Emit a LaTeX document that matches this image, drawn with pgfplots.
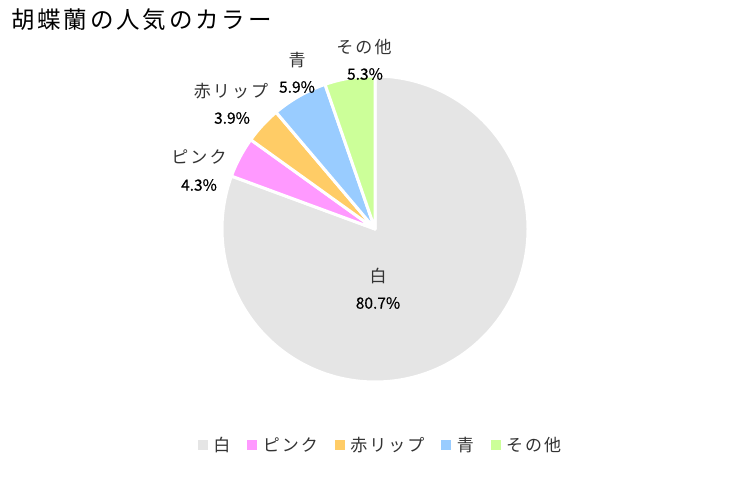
\documentclass[border=0pt]{standalone}
\usepackage{pgfplots}
\pgfplotsset{compat=1.18}
\usepackage{fontspec}
\setmainfont{Noto Sans CJK JP}
\definecolor{cWhite}{HTML}{E5E5E5}
\definecolor{cPink}{HTML}{FF99FF}
\definecolor{cOrange}{HTML}{FFCC66}
\definecolor{cBlue}{HTML}{99CCFF}
\definecolor{cGreen}{HTML}{CCFF99}
\definecolor{txt}{HTML}{333333}
% values (percent)
\def\vA{80.7}\def\vB{4.3}\def\vC{3.9}\def\vD{5.9}\def\vE{5.3}
\def\tot{100.1}
\begin{document}
\begin{tikzpicture}[x=1bp,y=1bp]
\path[fill=white] (0,0) rectangle (750,480);
\begin{axis}[at={(0,0)},anchor=south west,width=750bp,height=480bp,scale only axis,
  xmin=0,xmax=750,ymin=0,ymax=480,hide axis,clip=false,
  legend columns=-1,
  legend style={at={(0.5075,0.0729)},anchor=center,draw=none,fill=none,
    font=\fontsize{17bp}{20bp}\selectfont\addfontfeature{LetterSpace=12}\color{txt},
    /tikz/every even column/.append style={column sep=15bp},
    /tikz/every odd column/.append style={column sep=0bp}},
  legend image code/.code={\fill[#1] (0bp,-4.5bp) rectangle (9bp,4.5bp);\path (13bp,0);},
]
\addlegendimage{cWhite}\addlegendentry{白}
\addlegendimage{cPink}\addlegendentry{ピンク}
\addlegendimage{cOrange}\addlegendentry{赤リップ}
\addlegendimage{cBlue}\addlegendentry{青}
\addlegendimage{cGreen}\addlegendentry{その他}
\tikzset{slice/.style={draw=white,line width=3bp,line join=round}}
\fill[cWhite,slice] (axis cs:375,251) -- ++(90:153bp) arc[start angle=90, delta angle={-\vA/\tot*360}, radius=153bp] -- cycle;
\fill[cPink,slice] (axis cs:375,251) -- ++({90-\vA/\tot*360}:153bp) arc[start angle={90-\vA/\tot*360}, delta angle={-\vB/\tot*360}, radius=153bp] -- cycle;
\fill[cOrange,slice] (axis cs:375,251) -- ++({90-(\vA+\vB)/\tot*360}:153bp) arc[start angle={90-(\vA+\vB)/\tot*360}, delta angle={-\vC/\tot*360}, radius=153bp] -- cycle;
\fill[cBlue,slice] (axis cs:375,251) -- ++({90-(\vA+\vB+\vC)/\tot*360}:153bp) arc[start angle={90-(\vA+\vB+\vC)/\tot*360}, delta angle={-\vD/\tot*360}, radius=153bp] -- cycle;
\fill[cGreen,slice] (axis cs:375,251) -- ++({90-(\vA+\vB+\vC+\vD)/\tot*360}:153bp) arc[start angle={90-(\vA+\vB+\vC+\vD)/\tot*360}, delta angle={-\vE/\tot*360}, radius=153bp] -- cycle;
% labels
\tikzset{nm/.style={font=\fontsize{17bp}{20bp}\selectfont\addfontfeature{LetterSpace=12},text=txt,inner sep=0pt},
         pc/.style={font=\fontsize{15.5bp}{18bp}\selectfont\addfontfeature{FakeBold=0.4},text=black,inner sep=0pt}}
\node[nm] at (axis cs:378,204) {白};
\node[pc] at (axis cs:378,177) {80.7\%};
\node[nm] at (axis cs:199,323) {ピンク};
\node[pc] at (axis cs:199,295) {4.3\%};
\node[nm] at (axis cs:231,389) {赤リップ};
\node[pc] at (axis cs:232,362) {3.9\%};
\node[nm] at (axis cs:297,420) {青};
\node[pc] at (axis cs:297,393) {5.9\%};
\node[nm] at (axis cs:364,433) {その他};
\node[pc] at (axis cs:365,406) {5.3\%};
\node[anchor=west,inner sep=0pt,font=\fontsize{23.5bp}{26bp}\selectfont\addfontfeature{LetterSpace=12},text=black] at (axis cs:11,460) {胡蝶蘭の人気のカラー};
\end{axis}
\end{tikzpicture}
\end{document}
